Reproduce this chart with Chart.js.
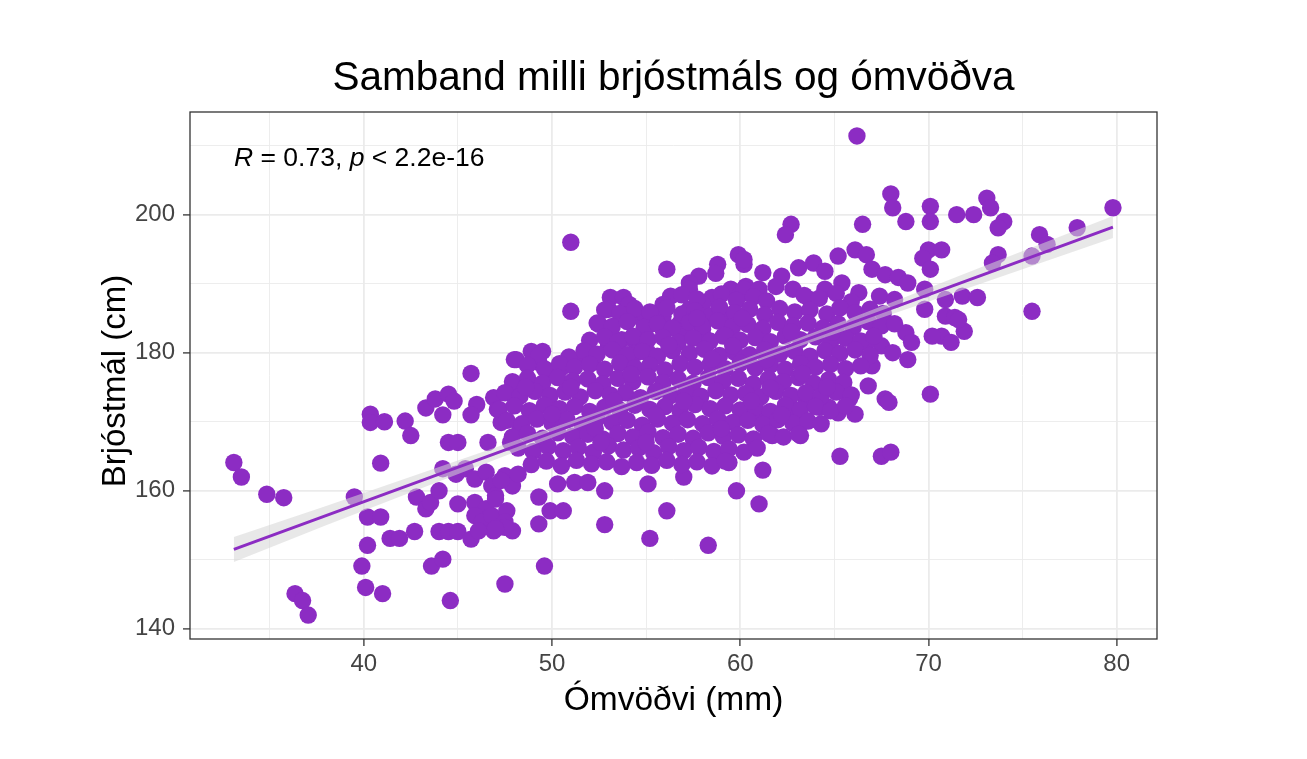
<!DOCTYPE html>
<html lang="is">
<head>
<meta charset="utf-8">
<title>Samband milli brjóstmáls og ómvöðva</title>
<script src="https://cdn.jsdelivr.net/npm/chart.js@4.4.1/dist/chart.umd.min.js"></script>
<style>
	html, body { margin: 0; padding: 0; background: #ffffff; }
	#wrap { width: 1307px; height: 759px; }
</style>
</head>
<body>
<div id="wrap"><canvas id="scatterChart" width="1307" height="759"></canvas></div>
<script>
// [ómvöðvi (mm), brjóstmál (cm)] - stakir punktar utan við kjarnann
const stakirPunktar = [
	[33.1, 164.1], [33.5, 162.0], [34.85, 159.5], [35.75, 159.0], [36.35, 145.1], [36.75, 144.1], [37.05, 142.0],
	[39.5, 159.1], [40.35, 171.1], [40.35, 169.9], [41.1, 170.0], [42.2, 170.1], [42.5, 168.0], [40.9, 164.0],
	[40.2, 156.2], [40.9, 156.2], [40.2, 152.1], [39.9, 149.1], [40.1, 146.0], [41.0, 145.1], [41.4, 153.1], [41.9, 153.1],
	[42.7, 154.1], [42.8, 159.1], [43.3, 157.4], [43.55, 158.3], [44.0, 160.0], [44.0, 154.1], [44.5, 154.1], [45.0, 154.1],
	[45.7, 153.0], [43.6, 149.1], [44.2, 150.1], [44.6, 144.1], [47.5, 146.5], [45.0, 158.1], [45.7, 177.0], [48.0, 179.0],
	[48.0, 174.5], [43.3, 172.0], [43.8, 173.3], [44.5, 174.0], [44.8, 173.0], [44.2, 171.0], [46.0, 172.5], [45.7, 171.0],
	[46.9, 173.5], [47.1, 171.8], [47.3, 169.9], [48.3, 169.2], [44.5, 167.0], [45.0, 167.0], [46.6, 167.0], [47.8, 167.0],
	[44.2, 163.2], [44.9, 162.4], [45.4, 163.2], [45.9, 161.7], [46.5, 162.7], [46.8, 160.7], [47.0, 159.3], [47.5, 162.2],
	[47.9, 160.7], [45.9, 158.3], [46.5, 157.4], [45.9, 156.4], [46.3, 155.5], [46.8, 156.4], [47.6, 157.1], [47.5, 155.5],
	[46.9, 154.2], [47.9, 154.2], [46.1, 154.2],
	[51.0, 196.0], [51.0, 186.0], [56.1, 192.1], [59.9, 194.2], [60.2, 192.8], [58.8, 192.8], [58.7, 191.5], [57.8, 191.1],
	[57.3, 190.1], [57.3, 189.2], [59.5, 189.2], [60.0, 188.4], [60.3, 189.6], [58.5, 188.0], [58.0, 187.0], [56.3, 188.2],
	[55.9, 187.0], [55.8, 186.0], [57.3, 186.3], [53.1, 188.0], [53.8, 188.0], [54.1, 187.0], [53.0, 186.3], [53.8, 185.5],
	[54.4, 185.3], [52.5, 184.1], [55.0, 185.3], [55.1, 183.9], [55.9, 185.3], [55.9, 183.4], [56.8, 184.3], [57.1, 182.9],
	[58.4, 185.3], [59.1, 185.1], [59.5, 183.4], [59.1, 182.4], [58.0, 183.4], [58.2, 181.9],
	[48.1, 179.0], [48.9, 180.2], [49.5, 180.2], [48.1, 174.7], [49.3, 178.6], [49.8, 177.1], [50.5, 177.8],
	[51.2, 178.8], [51.9, 180.0], [52.1, 178.6], [53.0, 181.0], [53.7, 181.9], [54.4, 181.7], [54.5, 180.0], [55.1, 180.0],
	[47.3, 161.5], [48.2, 162.4], [50.3, 161.0], [51.2, 161.2], [51.9, 161.2], [52.8, 160.0], [55.1, 161.0], [57.0, 162.0],
	[47.0, 158.8], [49.3, 159.1], [49.9, 157.1], [50.6, 157.1], [49.3, 155.2], [47.5, 154.7], [47.0, 154.5],
	[52.8, 155.1], [49.6, 149.1], [56.1, 157.1], [55.2, 153.1], [58.3, 152.1], [59.8, 160.0], [59.4, 164.1],
	[68.0, 203.0], [68.1, 201.0], [70.1, 201.2], [70.1, 199.0], [68.8, 199.0], [71.5, 200.0], [72.4, 200.0], [73.1, 202.4], [73.3, 201.0],
	[62.7, 198.6], [62.4, 197.1], [66.5, 198.6], [70.0, 194.9], [70.7, 194.9], [69.7, 193.7], [70.1, 192.1], [73.7, 194.2], [73.4, 193.0],
	[60.2, 193.5], [61.2, 191.6], [62.2, 191.1], [63.1, 192.3], [63.9, 193.0], [64.5, 191.8], [65.2, 194.0], [66.1, 194.9],
	[66.7, 194.2], [67.0, 192.1], [67.7, 191.3], [68.4, 190.9], [68.9, 190.1],
	[60.2, 189.2], [61.0, 189.2], [61.9, 189.6], [62.8, 189.2], [63.7, 187.7], [64.5, 189.2], [65.4, 190.1], [66.3, 188.7], [67.4, 188.2], [68.2, 187.7],
	[69.8, 189.2], [69.8, 186.3], [70.9, 187.7], [71.8, 188.2], [72.6, 188.0],
	[70.9, 185.3], [71.4, 185.1], [70.7, 182.4], [71.9, 183.1], [71.2, 181.5], [70.2, 182.4], [68.8, 182.9], [69.1, 181.5], [68.9, 179.0],
	[67.0, 178.1], [66.8, 175.2], [67.7, 173.3], [70.1, 174.0], [65.8, 173.3], [65.2, 171.3], [64.4, 172.3], [63.5, 173.3], [62.6, 172.3],
	[67.5, 181.0], [68.1, 180.0], [66.7, 181.5],
	[65.3, 165.0], [67.5, 165.0], [68.0, 165.6], [61.2, 163.0], [61.0, 158.1],
	[60.8, 170.6], [61.7, 170.1], [61.7, 168.0], [62.8, 171.3], [63.2, 169.7], [63.2, 168.0], [64.2, 172.1], [64.7, 172.1], [66.1, 171.1], [67.9, 172.8],
	[79.8, 201.0], [74.0, 199.0], [73.7, 198.1], [75.9, 197.1], [76.3, 195.7], [75.5, 194.0], [77.9, 198.1], [75.5, 186.0], [71.6, 184.8],
	[66.2, 211.4],
];

// þétti kjarninn í miðjunni
const thettirPunktar = [
	[56.9, 188.4], [57.7, 187.8], [59.0, 188.5], [59.8, 187.6], [60.7, 188.1], [61.4, 187.5], [63.4, 188.3], [64.2, 187.9], [65.1, 188.6], [65.9, 187.4],
	[52.8, 186.2], [53.6, 185.7], [54.4, 186.4], [55.2, 185.9], [56.1, 186.5], [56.9, 185.6], [57.6, 186.1], [58.9, 186.6], [59.7, 185.8], [60.5, 186.3],
	[61.3, 185.5], [62.1, 186.4], [62.9, 185.9], [63.7, 186.2], [64.6, 185.6], [65.3, 186.5], [66.1, 185.8], [66.9, 186.3], [67.6, 185.7],
	[52.4, 184.3], [53.2, 183.8], [54.0, 184.5], [54.9, 183.7], [55.6, 184.2], [56.4, 183.6], [57.3, 184.4], [58.0, 183.9], [58.8, 184.6], [59.6, 183.8],
	[60.4, 184.1], [61.2, 183.5], [62.0, 184.4], [62.8, 183.9], [63.6, 184.3], [64.4, 183.6], [65.2, 184.2], [66.0, 183.7], [66.8, 184.5], [67.5, 183.9], [68.2, 184.2],
	[52.0, 181.8], [52.8, 182.3], [53.5, 181.6], [54.3, 182.4], [55.1, 181.9], [55.9, 182.2], [56.7, 181.5], [57.5, 182.1], [58.4, 181.7], [59.2, 182.5],
	[60.0, 181.8], [60.8, 182.2], [61.6, 181.6], [62.4, 182.4], [63.2, 181.9], [64.0, 182.3], [64.8, 181.5], [65.6, 182.1], [66.4, 181.7], [67.1, 182.4],
	[49.3, 179.6], [50.9, 179.4], [51.7, 180.3], [52.4, 179.8], [53.2, 180.4], [54.0, 179.7], [54.8, 180.2], [55.6, 179.5], [56.4, 180.3], [57.3, 179.9],
	[58.1, 180.5], [58.9, 179.6], [59.7, 180.1], [60.5, 179.7], [61.3, 180.4], [62.1, 179.8], [62.9, 180.2], [63.7, 179.5], [64.5, 180.3], [65.3, 179.9], [66.1, 180.4], [66.9, 179.6],
	[48.7, 178.2], [49.6, 177.7], [50.4, 178.4], [51.2, 177.9], [52.0, 178.3], [52.8, 177.6], [53.6, 178.5], [54.4, 177.8], [55.2, 178.2], [56.0, 177.5],
	[56.8, 178.4], [57.6, 177.9], [58.4, 178.3], [59.2, 177.7], [60.0, 178.5], [60.8, 177.8], [61.6, 178.2], [62.4, 177.6], [63.2, 178.4], [64.0, 177.9],
	[64.8, 178.3], [65.6, 177.7], [66.4, 178.1],
	[47.9, 175.8], [48.7, 176.3], [49.5, 175.6], [50.3, 176.4], [51.1, 175.9], [51.9, 176.2], [52.7, 175.5], [53.5, 176.3], [54.3, 175.8], [55.1, 176.5],
	[55.9, 175.7], [56.7, 176.2], [57.5, 175.6], [58.3, 176.4], [59.1, 175.9], [59.9, 176.3], [60.7, 175.5], [61.5, 176.2], [62.3, 175.8], [63.1, 176.4],
	[63.9, 175.6], [64.7, 176.1], [65.5, 175.7],
	[47.5, 174.2], [48.3, 173.7], [49.1, 174.4], [49.9, 173.8], [50.7, 174.3], [51.5, 173.6], [52.3, 174.5], [53.1, 173.9], [53.9, 174.2], [54.7, 173.5],
	[55.5, 174.4], [56.3, 173.8], [57.1, 174.3], [57.9, 173.7], [58.7, 174.5], [59.5, 173.9], [60.3, 174.1], [61.1, 173.6], [61.9, 174.4], [62.7, 173.8],
	[63.5, 174.2], [64.3, 173.7], [65.1, 174.3], [65.9, 173.9],
	[47.2, 171.8], [48.0, 172.3], [48.8, 171.6], [49.6, 172.4], [50.4, 171.9], [51.2, 172.2], [52.0, 171.5], [52.8, 172.1], [53.6, 171.7], [54.4, 172.4],
	[55.2, 171.8], [56.0, 172.2], [56.8, 171.6], [57.6, 172.5], [58.4, 171.9], [59.2, 172.3], [60.0, 171.7], [60.8, 172.1], [61.6, 171.5], [62.4, 172.4],
	[63.2, 171.8], [64.0, 172.2], [64.8, 171.6], [65.6, 172.3],
	[47.6, 170.2], [48.4, 169.7], [49.2, 170.4], [50.0, 169.8], [50.8, 170.3], [51.6, 169.6], [52.4, 170.5], [53.2, 169.9], [54.0, 170.2], [54.8, 169.5],
	[55.6, 170.4], [56.4, 169.8], [57.2, 170.3], [58.0, 169.7], [58.8, 170.4], [59.6, 169.9], [60.4, 170.2], [61.2, 169.6], [62.0, 170.3], [62.8, 169.8],
	[63.6, 170.1], [64.3, 169.7],
	[47.9, 167.8], [48.7, 168.3], [49.5, 167.6], [50.3, 168.4], [51.1, 167.9], [51.9, 168.2], [52.7, 167.5], [53.5, 168.3], [54.3, 167.8], [55.1, 168.5],
	[55.9, 167.7], [56.7, 168.2], [57.5, 167.6], [58.3, 168.4], [59.1, 167.9], [59.9, 168.1], [60.7, 167.5], [61.5, 168.3], [62.3, 167.8], [63.1, 168.2],
	[48.2, 166.2], [49.0, 165.7], [49.8, 166.4], [50.6, 165.8], [51.4, 166.3], [52.2, 165.6], [53.0, 166.5], [53.8, 165.9], [54.6, 166.2], [55.4, 165.5],
	[56.2, 166.4], [57.0, 165.8], [57.8, 166.3], [58.6, 165.7], [59.4, 166.1], [60.2, 165.6], [60.9, 166.2],
	[48.9, 163.8], [49.7, 164.3], [50.5, 163.6], [51.3, 164.4], [52.1, 163.9], [52.9, 164.2], [53.7, 163.5], [54.5, 164.1], [55.3, 163.7], [56.1, 164.4],
	[56.9, 163.8], [57.7, 164.2], [58.5, 163.6], [59.2, 164.3],
	// fyllt í göt
	[55.5, 171.0], [57.0, 173.0], [60.6, 173.0], [62.2, 171.0], [63.3, 177.0], [61.4, 179.0], [58.5, 179.1], [54.2, 176.9],
	[56.2, 181.1], [59.6, 181.0], [62.7, 183.0], [60.1, 185.0], [64.9, 183.0], [52.3, 169.0], [50.0, 171.1], [48.6, 175.0],
	[51.0, 175.0], [53.3, 173.0], [59.0, 169.0], [61.6, 174.9], [64.6, 175.0], [57.7, 185.0], [55.0, 167.0], [52.6, 167.0],
];

// aðhvarfslína og öryggisbil
const fitX = [33.1, 79.8];
const fitY = [151.5, 198.2];
const bandX = [33.1, 38, 43, 48, 53, 58, 63, 68, 73, 79.8];
const bandUpper = [153.3, 157.8, 162.5, 167.2, 171.95, 176.85, 182.0, 187.25, 192.6, 199.8];
const bandLower = [149.7, 155.0, 160.3, 165.6, 170.85, 175.95, 180.8, 185.55, 190.2, 196.6];

// ásar
const xGrid = [35, 40, 45, 50, 55, 60, 65, 70, 75, 80];
const xLabels = [40, 50, 60, 70, 80];
const yGrid = [140, 150, 160, 170, 180, 190, 200, 210];
const yLabels = [140, 160, 180, 200];
const xRange = [30.77, 82.14];
const yRange = [138.53, 214.87];

const titill = "Samband milli brjóstmáls og ómvöðva";
const xTitill = "Ómvöðvi (mm)";
const yTitill = "Brjóstmál (cm)";
const fylgni = [
	{ text: "R", italic: true },
	{ text: " = 0.73, ", italic: false },
	{ text: "p", italic: true },
	{ text: " < 2.2e-16", italic: false },
];

const fontFamily = "'Liberation Sans', Arial, sans-serif";
const purple = "#8c2cc3";

document.addEventListener("DOMContentLoaded", () => {
	const canvas = document.getElementById("scatterChart");

	// texti og rammi eins og í ggplot theme_bw
	const ggTexts = {
		id: "ggTexts",
		afterDraw(chart) {
			const c = chart.ctx;
			const area = chart.chartArea;
			const midX = (area.left + area.right) / 2;
			c.save();
			c.strokeStyle = "#333333";
			c.lineWidth = 1.3;
			c.strokeRect(area.left, area.top, area.right - area.left, area.bottom - area.top);

			c.fillStyle = "#000000";
			c.textBaseline = "alphabetic";
			c.textAlign = "center";
			c.font = `40.5px ${fontFamily}`;
			c.fillText(titill, midX, 90);

			c.font = `33.5px ${fontFamily}`;
			c.fillText(xTitill, midX, 710);

			c.save();
			c.translate(125, 381);
			c.rotate(-Math.PI / 2);
			c.font = `33px ${fontFamily}`;
			c.fillText(yTitill, 0, 0);
			c.restore();

			// R = 0.73, p < 2.2e-16
			c.textAlign = "left";
			let x = 234;
			fylgni.forEach((part) => {
				c.font = `${part.italic ? "italic " : ""}26.5px ${fontFamily}`;
				c.fillText(part.text, x, 166);
				x += c.measureText(part.text).width;
			});
			c.restore();
		},
	};

	new Chart(canvas, {
		type: "scatter",
		data: {
			datasets: [
				{
					type: "scatter",
					data: stakirPunktar.concat(thettirPunktar).map((p) => ({ x: p[0], y: p[1] })),
					backgroundColor: purple,
					borderWidth: 0,
					pointRadius: 8.7,
					order: 3,
				},
				{
					type: "line",
					data: bandX.map((x, i) => ({ x: x, y: bandLower[i] })),
					borderColor: "rgba(0,0,0,0)",
					borderWidth: 0,
					pointRadius: 0,
					showLine: true,
					fill: false,
					order: 2,
				},
				{
					type: "line",
					data: bandX.map((x, i) => ({ x: x, y: bandUpper[i] })),
					borderColor: "rgba(0,0,0,0)",
					borderWidth: 0,
					pointRadius: 0,
					showLine: true,
					fill: "-1",
					backgroundColor: "rgba(213,213,213,0.55)",
					order: 2,
				},
				{
					type: "line",
					data: fitX.map((x, i) => ({ x: x, y: fitY[i] })),
					borderColor: purple,
					borderWidth: 3,
					pointRadius: 0,
					showLine: true,
					fill: false,
					order: 1,
				},
			],
		},
		options: {
			responsive: false,
			animation: false,
			events: [],
			layout: { padding: { left: 0, top: 112, right: 150, bottom: 0 } },
			plugins: {
				legend: { display: false },
				tooltip: { enabled: false },
				title: { display: false },
			},
			scales: {
				x: {
					type: "linear",
					min: xRange[0],
					max: xRange[1],
					afterBuildTicks: (scale) => {
						scale.ticks = xGrid.map((v) => ({ value: v }));
					},
					afterFit: (scale) => {
						scale.height = 120;
					},
					border: { display: false },
					grid: {
						color: "#ebebeb",
						lineWidth: (c) => (xLabels.includes(c.tick.value) ? 1.8 : 0.9),
						tickColor: (c) => (xLabels.includes(c.tick.value) ? "#333333" : "rgba(0,0,0,0)"),
						tickLength: 7,
						tickWidth: 1.3,
					},
					ticks: {
						autoSkip: false,
						maxRotation: 0,
						padding: 4,
						color: "#444444",
						font: { family: fontFamily, size: 24 },
						callback: (v) => (xLabels.includes(v) ? String(v) : ""),
					},
				},
				y: {
					type: "linear",
					min: yRange[0],
					max: yRange[1],
					afterBuildTicks: (scale) => {
						scale.ticks = yGrid.map((v) => ({ value: v }));
					},
					afterFit: (scale) => {
						scale.width = 190;
					},
					border: { display: false },
					grid: {
						color: "#ebebeb",
						lineWidth: (c) => (yLabels.includes(c.tick.value) ? 1.8 : 0.9),
						tickColor: (c) => (yLabels.includes(c.tick.value) ? "#333333" : "rgba(0,0,0,0)"),
						tickLength: 7,
						tickWidth: 1.3,
					},
					ticks: {
						autoSkip: false,
						padding: 8,
						color: "#444444",
						font: { family: fontFamily, size: 24 },
						callback: (v) => (yLabels.includes(v) ? String(v) : ""),
					},
				},
			},
		},
		plugins: [ggTexts],
	});
});
</script>
</body>
</html>
